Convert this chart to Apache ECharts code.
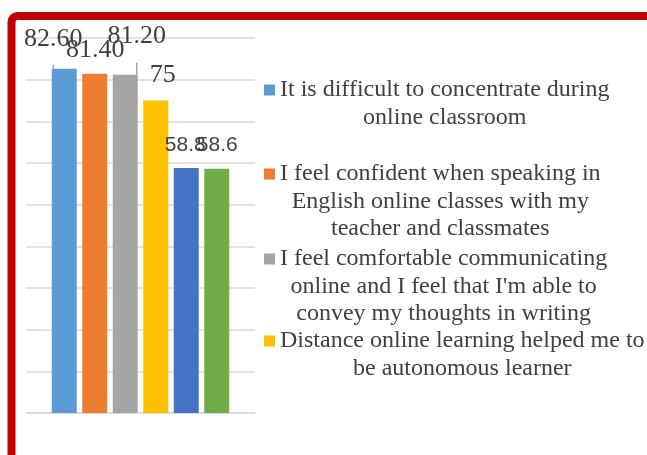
<!DOCTYPE html>
<html>
<head>
<meta charset="utf-8">
<script src="https://cdn.jsdelivr.net/npm/echarts@6/dist/echarts.min.js"></script>
<style>html,body{margin:0;padding:0;background:#fff;}#c{width:647px;height:455px;}</style>
</head>
<body>
<div id="c"></div>
<script>
const seriesNames = [
  "It is difficult to concentrate during\nonline classroom",
  "I feel confident when speaking in\nEnglish online classes with my\nteacher and classmates",
  "I feel comfortable communicating\nonline and I feel that I'm able to\nconvey my thoughts in writing",
  "Distance online learning helped me to\nbe autonomous learner",
  "Statement 5",
  "Statement 6"
];
const values = [82.6, 81.4, 81.2, 75, 58.8, 58.6];
const labelTexts = ['82.60', '81.40', '81.20', '75', '58.8', '58.6'];
const colors = ['#5B9BD5', '#ED7D31', '#A5A5A5', '#FFC000', '#4472C4', '#70AD47'];
const categories = [''];
const yTicks = { min: 0, max: 90, interval: 10 };

const serif = '"Liberation Serif", "Times New Roman", serif';
const sans = '"Liberation Sans", Arial, sans-serif';
const textColor = '#404040';

// label style/placement (presentation only)
const labelOffsets = [[-11, -17], [0.5, -10.5], [11.5, -25], [7, -12], [-1, -12.5], [0.5, -13.5]];
const labelFonts = [serif, serif, serif, serif, sans, sans];
const labelSizes = [26, 26, 26, 26, 21, 21];
const showGuide = [true, false, true, false, false, false];

const LH = 27.5;
const legendIconCenters = [90, 174, 259, 341];

const series = values.map((v, i) => ({
  name: seriesNames[i],
  type: 'bar',
  barWidth: 25,
  barGap: '22%',
  itemStyle: { color: colors[i] },
  data: [v],
  label: {
    show: true,
    position: 'top',
    distance: 0,
    offset: labelOffsets[i],
    formatter: () => labelTexts[i],
    fontFamily: labelFonts[i],
    fontSize: labelSizes[i],
    lineHeight: labelSizes[i],
    color: textColor
  },
  labelLine: { show: showGuide[i], lineStyle: { color: '#A6A6A6', width: 1.5 } },
  emphasis: { disabled: true }
}));

const legends = legendIconCenters.map((cy, i) => {
  const n = seriesNames[i].split('\n').length;
  const H = (2 * n - 1) * LH;
  return {
    left: 264,
    top: cy - H / 2,
    padding: 0,
    orient: 'vertical',
    icon: 'rect',
    itemWidth: 11,
    itemHeight: 11,
    selectedMode: false,
    data: [seriesNames[i]],
    formatter: name => name.split('\n').map(s => '{c|' + s + '}').join('\n'),
    textStyle: {
      padding: [(n - 1) * LH, 0, 0, 0],
      fontFamily: serif,
      fontSize: 24,
      lineHeight: LH,
      color: textColor,
      rich: {
        c: { align: 'center', fontFamily: serif, fontSize: 24, lineHeight: LH, color: textColor }
      }
    }
  };
});

const chart = echarts.init(document.getElementById('c'), null, { renderer: 'canvas' });
chart.setOption({
  animation: false,
  backgroundColor: '#fff',
  graphic: [{
    type: 'rect',
    shape: { x: 11.5, y: 16, width: 700, height: 500, r: 6 },
    style: { fill: 'none', stroke: '#C00000', lineWidth: 8 },
    silent: true,
    z: 100
  }],
  legend: legends,
  grid: { left: 26, right: 392, top: 38, bottom: 42 },
  xAxis: {
    type: 'category',
    data: categories,
    axisLine: { show: true, lineStyle: { color: '#D9D9D9', width: 1.5 } },
    axisTick: { show: false },
    axisLabel: { show: false }
  },
  yAxis: {
    type: 'value',
    min: yTicks.min,
    max: yTicks.max,
    interval: yTicks.interval,
    axisLine: { show: false },
    axisTick: { show: false },
    axisLabel: { show: false },
    splitLine: { lineStyle: { color: '#D9D9D9', width: 1.5 } }
  },
  series: series
});
</script>
</body>
</html>
